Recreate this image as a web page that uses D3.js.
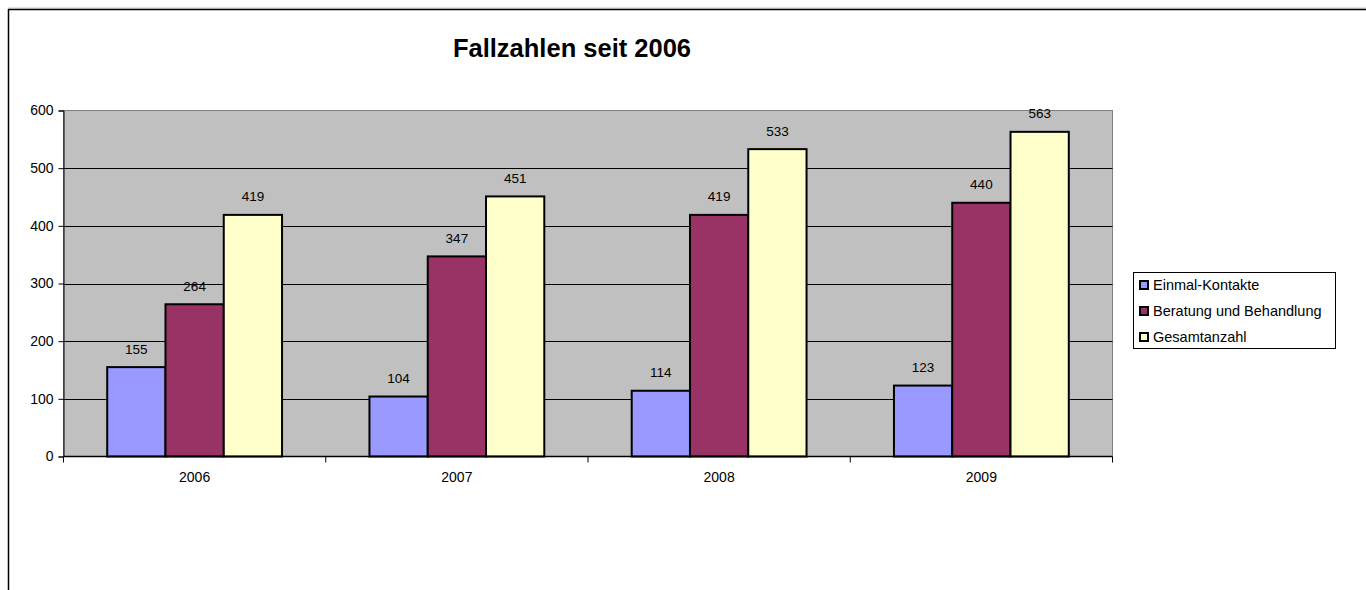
<!DOCTYPE html>
<html><head><meta charset="utf-8">
<script src="https://cdn.jsdelivr.net/npm/d3@7"></script>
<style>body{margin:0;background:#fff;}svg{display:block;font-family:"Liberation Sans",Arial,sans-serif;}</style>
</head><body>
<svg id="c" width="1366" height="590"></svg>
<script>
const title = "Fallzahlen seit 2006";
const years = ["2006","2007","2008","2009"];
const seriesNames = ["Einmal-Kontakte","Beratung und Behandlung","Gesamtanzahl"];
const einmal = [155,104,114,123];
const beratung = [264,347,419,440];
const gesamt = [419,451,533,563];
const yTicks = [0,100,200,300,400,500,600];
const colors = ["#9999FF","#993366","#FFFFCC"];

const svg = d3.select("#c");
// outer frame
svg.append("line").attr("x1",8).attr("x2",1366).attr("y1",8).attr("y2",8).attr("stroke","#c8c8c8").attr("stroke-width",1);
svg.append("line").attr("x1",8).attr("x2",1366).attr("y1",9.5).attr("y2",9.5).attr("stroke","#000").attr("stroke-width",1.5);
svg.append("line").attr("x1",8.5).attr("x2",8.5).attr("y1",9).attr("y2",590).attr("stroke","#000").attr("stroke-width",1.5);

const L=63.5, R=1112.5, T=110.5, B=456.5;
const x0 = d3.scaleBand().domain(years).range([L,R]).paddingInner(0).paddingOuter(0);
const y = d3.scaleLinear().domain([0,600]).range([B,T]);
const data = [einmal,beratung,gesamt];

svg.append("rect").attr("x",L).attr("y",T).attr("width",R-L).attr("height",B-T).attr("fill","#C0C0C0").attr("stroke","#808080").attr("stroke-width",1);

// gridlines
svg.append("g").selectAll("line").data(yTicks.filter(d=>d>0 && d<600)).join("line")
  .attr("x1",L).attr("x2",R).attr("y1",d=>Math.round(y(d))+0.5).attr("y2",d=>Math.round(y(d))+0.5)
  .attr("stroke","#000").attr("stroke-width",1);

// bars
const bw = x0.bandwidth()/4.5;
const x1 = d3.scaleBand().domain(d3.range(3)).range([0,bw*3]);
const g = svg.append("g");
years.forEach((yr,i)=>{
  const start = x0(yr) + (x0.bandwidth()-bw*3)/2;
  data.forEach((arr,s)=>{
    g.append("rect").attr("x",start+x1(s)).attr("y",y(arr[i])).attr("width",x1.bandwidth()).attr("height",y(0)-y(arr[i]))
      .attr("fill",colors[s]).attr("stroke","#000").attr("stroke-width",2);
    g.append("text").attr("x",start+x1(s)+x1.bandwidth()/2).attr("y",y(arr[i])-13.5).attr("text-anchor","middle")
      .attr("font-size",13.5).attr("fill","#000").text(arr[i]);
  });
});

// y axis
const ya = svg.append("g").attr("transform",`translate(${L},0)`).call(d3.axisLeft(y).tickValues(yTicks).tickSize(5).tickPadding(5));
ya.select(".domain").attr("stroke","#000");
ya.selectAll("text").attr("font-size",14).attr("font-family","Liberation Sans, Arial");
// x axis
const xa = svg.append("g").attr("transform",`translate(0,${B})`);
xa.append("line").attr("x1",L).attr("x2",R).attr("y1",0).attr("y2",0).attr("stroke","#000").attr("stroke-width",1.5);
xa.selectAll("line.t").data(years.map(d=>x0(d)).concat([R])).join("line").attr("class","t")
  .attr("x1",d=>d).attr("x2",d=>d).attr("y1",0).attr("y2",6).attr("stroke","#000");
xa.selectAll("text").data(years).join("text").attr("x",d=>x0(d)+x0.bandwidth()/2).attr("y",25)
  .attr("text-anchor","middle").attr("font-size",14).text(d=>d);

// title
svg.append("text").attr("x",572).attr("y",56.5).attr("text-anchor","middle").attr("font-size",25.5).attr("font-weight","bold").text(title);

// legend
const lg = svg.append("g");
lg.append("rect").attr("x",1133.5).attr("y",272.5).attr("width",202).attr("height",76).attr("fill","#fff").attr("stroke","#000").attr("stroke-width",1);
seriesNames.forEach((n,i)=>{
  const cy = 285 + i*26;
  lg.append("rect").attr("x",1140).attr("y",cy-4).attr("width",8).attr("height",8).attr("fill",colors[i]).attr("stroke","#000").attr("stroke-width",2);
  lg.append("text").attr("x",1153).attr("y",cy+5).attr("font-size",14.5).text(n);
});
</script>
</body></html>
